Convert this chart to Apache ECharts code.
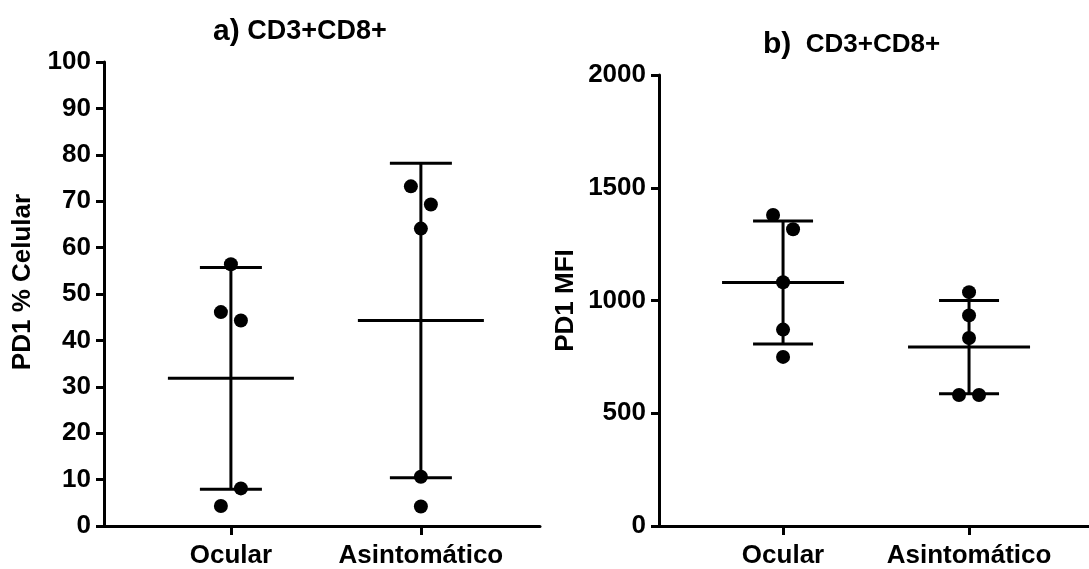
<!DOCTYPE html>
<html>
<head>
<meta charset="utf-8">
<script src="https://cdn.jsdelivr.net/npm/echarts@6/dist/echarts.min.js"></script>
<style>
html,body{margin:0;padding:0;background:#fff;}
#c{width:1089px;height:569px;}
</style>
</head>
<body>
<div id="c"></div>
<script>
// ---- data ----
const categories = ['Ocular', 'Asintomático'];
// Panel a: PD1 % Celular
const pctOcular = [56.4, 46.1, 44.3, 8.1, 4.3];
const pctAsint  = [73.2, 69.3, 64.1, 10.6, 4.2];
// Panel b: PD1 MFI
const mfiOcular = [1379, 1316, 1081, 871, 750];
const mfiAsint  = [1037, 934, 834, 581, 581];
// tick labels
const ticksA = [0, 10, 20, 30, 40, 50, 60, 70, 80, 90, 100];
const ticksB = [0, 500, 1000, 1500, 2000];
// horizontal jitter side of each point (-1 left, 0 centre, 1 right)
const jitPctOcular = [0, -1, 1, 1, -1];
const jitPctAsint  = [-1, 1, 0, 0, 0];
const jitMfiOcular = [-1, 1, 0, 0, 0];
const jitMfiAsint  = [0, 0, 0, -1, 1];

// ---- helpers ----
function mean(a){ return a.reduce((s,v)=>s+v,0)/a.length; }
function sd(a){ const m=mean(a); return Math.sqrt(a.reduce((s,v)=>s+(v-m)*(v-m),0)/(a.length-1)); }
function stat(a, xi){ const m=mean(a), s=sd(a); return [xi, m, m-s, m+s]; }
function pts(a, jit, xi){ return a.map((v,i)=>({value:[xi, v], symbolOffset:[jit[i]*10, 0]})); }

const FONT = "'Liberation Sans', Arial, sans-serif";
const BLACK = '#000';

function errRender(meanHalf, capHalf){
  return function(params, api){
    const c = api.coord([api.value(0), api.value(1)]);
    const lo = api.coord([api.value(0), api.value(2)]);
    const hi = api.coord([api.value(0), api.value(3)]);
    const st = {stroke: BLACK, lineWidth: 3};
    return {type:'group', children:[
      {type:'line', shape:{x1:c[0]-meanHalf, y1:c[1], x2:c[0]+meanHalf, y2:c[1]}, style:st},
      {type:'line', shape:{x1:lo[0], y1:lo[1], x2:hi[0], y2:hi[1]}, style:st},
      {type:'line', shape:{x1:lo[0]-capHalf, y1:lo[1], x2:lo[0]+capHalf, y2:lo[1]}, style:st},
      {type:'line', shape:{x1:hi[0]-capHalf, y1:hi[1], x2:hi[0]+capHalf, y2:hi[1]}, style:st}
    ]};
  };
}

function xAxisCfg(gi, min, max){
  return {
    type:'value', gridIndex:gi, min:min, max:max,
    splitLine:{show:false},
    axisLine:{show:true, lineStyle:{color:BLACK, width:3}},
    axisTick:{show:true, customValues:[1,2], length:9, lineStyle:{color:BLACK, width:3}},
    axisLabel:{show:true, customValues:[1,2], margin:17, formatter:(v)=>categories[Math.round(v)-1] || '',
      color:BLACK, fontFamily:FONT, fontWeight:'bold', fontSize:26}
  };
}
function yAxisCfg(gi, max, interval, name, gap, pad){
  return {
    type:'value', gridIndex:gi, min:0, max:max, interval:interval,
    splitLine:{show:false},
    name:name, nameLocation:'middle', nameGap:gap,
    nameTextStyle:{color:BLACK, fontFamily:FONT, fontWeight:'bold', fontSize:26, padding:pad},
    axisLine:{show:true, lineStyle:{color:BLACK, width:3}},
    axisTick:{show:true, length:8, lineStyle:{color:BLACK, width:3}},
    axisLabel:{margin:13, color:BLACK, fontFamily:FONT, fontWeight:'bold', fontSize:26,
      formatter:(v)=>String(v)}
  };
}

const chart = echarts.init(document.getElementById('c'), null, {renderer:'canvas'});
chart.setOption({
  backgroundColor:'#fff',
  animation:false,
  title:[
    {text:'{a|a)}{b| CD3+CD8+}', left:208, top:12,
     textStyle:{rich:{
       a:{fontFamily:FONT, fontWeight:'bold', fontSize:30, color:BLACK},
       b:{fontFamily:FONT, fontWeight:'bold', fontSize:27, color:BLACK}}}},
    {text:'{a|b)}{b|  CD3+CD8+}', left:758, top:25,
     textStyle:{rich:{
       a:{fontFamily:FONT, fontWeight:'bold', fontSize:30, color:BLACK},
       b:{fontFamily:FONT, fontWeight:'bold', fontSize:26, color:BLACK}}}}
  ],
  grid:[
    {left:104, top:62, width:436, height:466},
    {left:659, top:75, width:430, height:454}
  ],
  xAxis:[ xAxisCfg(0, 0.332, 2.627), xAxisCfg(1, 0.333, 2.645) ],
  yAxis:[
    yAxisCfg(0, ticksA[ticksA.length-1], ticksA[1]-ticksA[0], 'PD1 % Celular', 68, [0,0,0,24]),
    yAxisCfg(1, ticksB[ticksB.length-1], ticksB[1]-ticksB[0], 'PD1 MFI', 80, [0,0,0,0])
  ],
  series:[
    {type:'custom', xAxisIndex:0, yAxisIndex:0, renderItem:errRender(63,31),
     data:[stat(pctOcular,1), stat(pctAsint,2)], z:2},
    {type:'custom', xAxisIndex:1, yAxisIndex:1, renderItem:errRender(61,30),
     data:[stat(mfiOcular,1), stat(mfiAsint,2)], z:2},
    {type:'scatter', xAxisIndex:0, yAxisIndex:0, symbol:'circle', symbolSize:14,
     itemStyle:{color:BLACK, opacity:1}, z:3,
     data: pts(pctOcular, jitPctOcular, 1).concat(pts(pctAsint, jitPctAsint, 2))},
    {type:'scatter', xAxisIndex:1, yAxisIndex:1, symbol:'circle', symbolSize:14,
     itemStyle:{color:BLACK, opacity:1}, z:3,
     data: pts(mfiOcular, jitMfiOcular, 1).concat(pts(mfiAsint, jitMfiAsint, 2))}
  ]
});
</script>
</body>
</html>
